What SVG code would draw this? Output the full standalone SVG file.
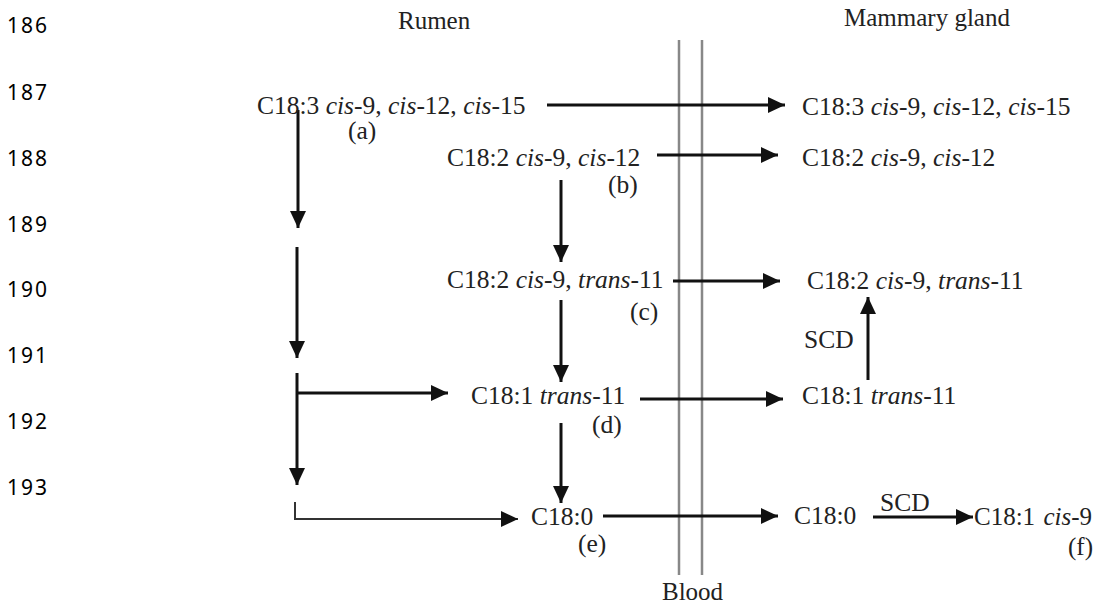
<svg xmlns="http://www.w3.org/2000/svg" width="1094" height="607" viewBox="0 0 1094 607">
<defs>
<style>
.ln{font-family:"Noto Sans","Open Sans",sans-serif;font-size:21px;fill:#000;letter-spacing:2px}
.t{font-family:"Liberation Serif","Times New Roman",serif;font-size:25.5px;fill:#222}
.h{font-family:"Liberation Serif","Times New Roman",serif;font-size:25px;fill:#222}
.i{font-style:italic}
.a{stroke:#111;stroke-width:3;fill:none}
.thin{stroke:#333;stroke-width:2;fill:none}
.bl{stroke:#888;stroke-width:2.5;fill:none}
</style>
<marker id="ah" markerUnits="userSpaceOnUse" markerWidth="18" markerHeight="18" refX="17" refY="8" orient="auto">
<path d="M0,0 L17,8 L0,16 z" fill="#111"/>
</marker>
</defs>
<rect width="1094" height="607" fill="#fff"/>
<g id="line-numbers">
<text class="ln" x="7" y="33">186</text>
<text class="ln" x="7" y="100">187</text>
<text class="ln" x="7" y="166">188</text>
<text class="ln" x="7" y="232">189</text>
<text class="ln" x="7" y="297">190</text>
<text class="ln" x="7" y="363">191</text>
<text class="ln" x="7" y="429">192</text>
<text class="ln" x="7" y="495">193</text>
</g>
<g id="headers">
<text class="h" x="398" y="29">Rumen</text>
<text class="h" x="844" y="26">Mammary gland</text>
<text class="h" x="662" y="600">Blood</text>
</g>
<g id="blood">
<line class="bl" x1="679" y1="40" x2="679" y2="575"/>
<line class="bl" x1="702" y1="40" x2="702" y2="575"/>
</g>
<g id="connectors">
<line class="a" x1="547" y1="105" x2="785" y2="105" marker-end="url(#ah)"/>
<line class="a" x1="657" y1="155" x2="778" y2="155" marker-end="url(#ah)"/>
<line class="a" x1="673" y1="281" x2="780" y2="281" marker-end="url(#ah)"/>
<line class="a" x1="640" y1="399" x2="783" y2="399" marker-end="url(#ah)"/>
<line class="a" x1="603" y1="516" x2="778" y2="516" marker-end="url(#ah)"/>
<line class="a" x1="873" y1="517" x2="973" y2="517" marker-end="url(#ah)"/>
<line class="a" x1="868" y1="380" x2="868" y2="297" marker-end="url(#ah)"/>
<line class="a" x1="298" y1="110" x2="298" y2="228" marker-end="url(#ah)"/>
<line class="a" x1="297" y1="247" x2="297" y2="358" marker-end="url(#ah)"/>
<line class="a" x1="297" y1="373" x2="297" y2="485" marker-end="url(#ah)"/>
<line class="a" x1="297" y1="393" x2="448" y2="393" marker-end="url(#ah)"/>
<line class="a" x1="561" y1="180" x2="561" y2="262" marker-end="url(#ah)"/>
<line class="a" x1="561" y1="300" x2="561" y2="382" marker-end="url(#ah)"/>
<line class="a" x1="561" y1="423" x2="561" y2="503" marker-end="url(#ah)"/>
<path class="thin" d="M295,502 L295,519 L518,519" marker-end="url(#ah)"/>
</g>
<g id="node-a">
<text class="t" x="257" y="114">C18:3 <tspan class="i">cis</tspan>-9, <tspan class="i">cis</tspan>-12, <tspan class="i">cis</tspan>-15</text>
<text class="t" x="348" y="139">(a)</text>
</g>
<g id="node-b">
<text class="t" x="447" y="166">C18:2 <tspan class="i">cis</tspan>-9, <tspan class="i">cis</tspan>-12</text>
<text class="t" x="608" y="193">(b)</text>
</g>
<g id="node-c">
<text class="t" x="447" y="288">C18:2 <tspan class="i">cis</tspan>-9, <tspan class="i">trans</tspan>-11</text>
<text class="t" x="630" y="320">(c)</text>
</g>
<g id="node-d">
<text class="t" x="471" y="404">C18:1 <tspan class="i">trans</tspan>-11</text>
<text class="t" x="592" y="433">(d)</text>
</g>
<g id="node-e">
<text class="t" x="531" y="525">C18:0</text>
<text class="t" x="578" y="552">(e)</text>
</g>
<g id="mg-a"><text class="t" x="802" y="115">C18:3 <tspan class="i">cis</tspan>-9, <tspan class="i">cis</tspan>-12, <tspan class="i">cis</tspan>-15</text></g>
<g id="mg-b"><text class="t" x="802" y="166">C18:2 <tspan class="i">cis</tspan>-9, <tspan class="i">cis</tspan>-12</text></g>
<g id="mg-c"><text class="t" x="807" y="289">C18:2 <tspan class="i">cis</tspan>-9, <tspan class="i">trans</tspan>-11</text></g>
<g id="mg-d"><text class="t" x="802" y="404">C18:1 <tspan class="i">trans</tspan>-11</text></g>
<g id="mg-e"><text class="t" x="794" y="524">C18:0</text></g>
<g id="mg-f">
<text class="h" x="974" y="525">C18:1 <tspan class="i" dx="2">cis</tspan>-9</text>
<text class="h" x="1068" y="555">(f)</text>
</g>
<g id="labels">
<text class="t" x="804" y="348">SCD</text>
<text class="t" x="880" y="511">SCD</text>
</g>
</svg>
